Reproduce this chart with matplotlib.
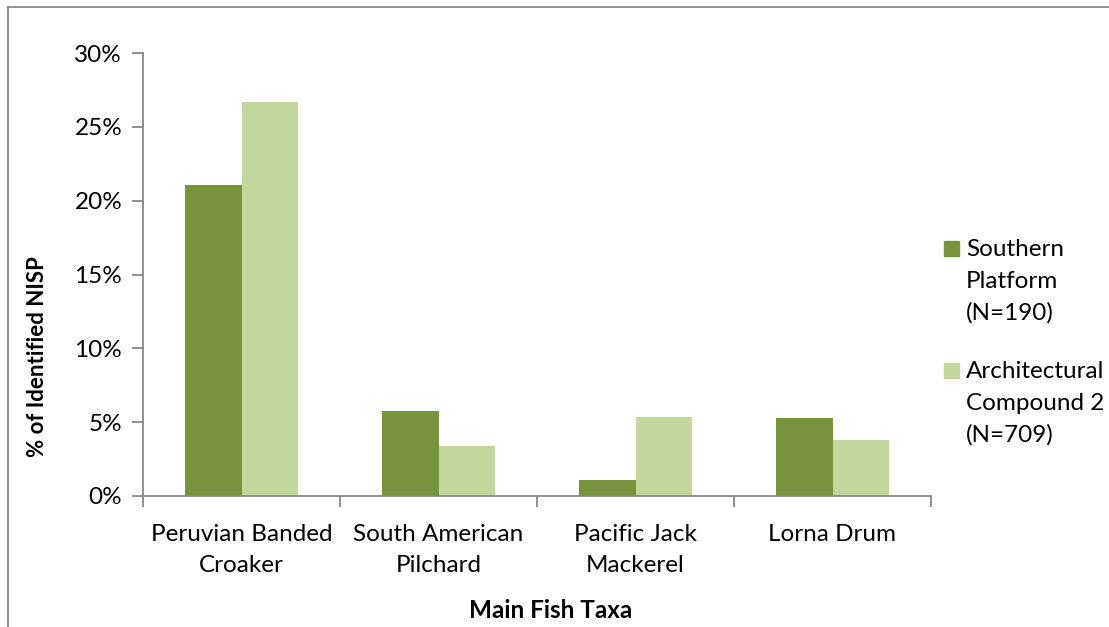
import matplotlib
matplotlib.use("Agg")
import matplotlib.pyplot as plt
from matplotlib.patches import Rectangle
from matplotlib.lines import Line2D
from matplotlib.ticker import MultipleLocator, PercentFormatter
import numpy as np

categories = ["Peruvian Banded\nCroaker", "South American\nPilchard", "Pacific Jack\nMackerel", "Lorna Drum"]
southern_platform = [21.05, 5.79, 1.05, 5.26]
arch_compound_2 = [26.66, 3.39, 5.36, 3.81]
series_labels = ["Southern\nPlatform\n(N=190)", "Architectural\nCompound 2\n(N=709)"]
colors = ["#77933C", "#C3D69B"]

FONT = "Lato"
plt.rcParams["font.family"] = [FONT, "DejaVu Sans"]

W, H = 1109, 627
fig = plt.figure(figsize=(W / 100, H / 100), dpi=100)
ax = fig.add_axes([143 / W, 1 - 496 / H, (931 - 143) / W, (496 - 53) / H])

x = np.arange(len(categories))
w = 0.285
ax.bar(x - w / 2, southern_platform, width=w, color=colors[0], zorder=2)
ax.bar(x + w / 2, arch_compound_2, width=w, color=colors[1], zorder=2)

ax.set_xlim(-0.5, len(categories) - 0.5)
ax.set_ylim(0, 30)
ax.yaxis.set_major_locator(MultipleLocator(5))
ax.yaxis.set_major_formatter(PercentFormatter(decimals=0))

for s in ["top", "right"]:
    ax.spines[s].set_visible(False)
for s in ["left", "bottom"]:
    ax.spines[s].set_color("#878787")
    ax.spines[s].set_linewidth(1.3)

ax.set_xticks(np.arange(len(categories) + 1) - 0.5)
ax.set_xticklabels([])
ax.set_xticks(x, minor=True)
ax.set_xticklabels(categories, minor=True, fontsize=17.5, linespacing=1.6)
ax.tick_params(axis="x", which="major", direction="out", length=8, width=1.3, color="#878787")
ax.tick_params(axis="x", which="minor", length=0, pad=20)
ax.tick_params(axis="y", direction="out", length=8, width=1.3, color="#878787", labelsize=17.5, pad=7)

ax.set_ylabel("% of Identified NISP", fontsize=16, fontweight="bold")
ax.yaxis.label.set_va("center")
ax.yaxis.set_label_coords((38 - 143) / (931 - 143), (496 - 357) / (496 - 53))
fig.text(551 / W, 1 - 610 / H, "Main Fish Taxa", fontsize=17.5, fontweight="bold",
         ha="center", va="center")

# legend drawn in figure coordinates, one text line at a time
legend_square_tops = [241, 363]
legend_baselines = [[256, 288, 320], [378, 410, 442]]
for lbl, col, top, bases in zip(series_labels, colors, legend_square_tops, legend_baselines):
    fig.patches.append(Rectangle((944 / W, 1 - (top + 15) / H), 15 / W, 15 / H,
                                 transform=fig.transFigure, color=col))
    for line, b in zip(lbl.split("\n"), bases):
        fig.text(966 / W, 1 - b / H, line, fontsize=17.5, ha="left", va="baseline")

# outer chart-area border (left and top edges)
fig.add_artist(Line2D([8 / W, 8 / W], [0, 1 - 7 / H], transform=fig.transFigure,
                      color="#878787", lw=1.3))
fig.add_artist(Line2D([8 / W, 1], [1 - 7 / H, 1 - 7 / H], transform=fig.transFigure,
                      color="#878787", lw=1.3))

fig.savefig("out.png", dpi=100)
